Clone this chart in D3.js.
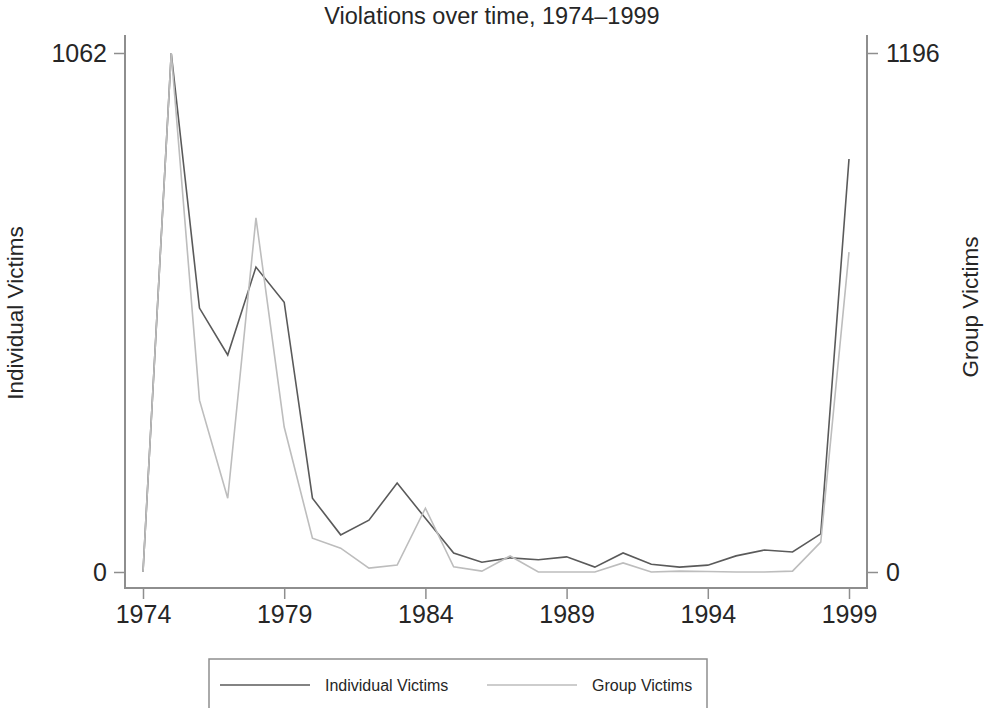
<!DOCTYPE html>
<html>
<head>
<meta charset="utf-8">
<script src="https://cdn.jsdelivr.net/npm/d3@7"></script>
<style>
body { margin: 0; background: #fff; }
text { font-family: "Liberation Sans", Arial, sans-serif; fill: #262626; }
</style>
</head>
<body>
<div id="chart"></div>
<script>
var years = [1974, 1975, 1976, 1977, 1978, 1979, 1980, 1981, 1982, 1983, 1984, 1985, 1986,
	1987, 1988, 1989, 1990, 1991, 1992, 1993, 1994, 1995, 1996, 1997, 1998, 1999],
	individual = [0, 1062, 540, 444, 624, 552, 151, 76, 106, 182, 110, 39, 20,
		29, 25, 31, 10, 39, 16, 10, 14, 33, 45, 41, 78, 845],
	group = [0, 1196, 396, 170, 816, 334, 78, 55, 9, 16, 147, 12, 2,
		37, 0, 0, 0, 21, 0, 2, 1, 0, 0, 2, 69, 737],
	xTicks = [1974, 1979, 1984, 1989, 1994, 1999],
	leftTicks = [0, 1062],
	rightTicks = [0, 1196];

var width = 984,
	height = 708,
	plotLeft = 125, plotRight = 867, plotTop = 35, plotBottom = 588;

var svg = d3.select('#chart')
	.append('svg')
	.attr('width', width)
	.attr('height', height);

var x = d3.scaleLinear().domain([1974, 1999]).range([143, 849]);
var yL = d3.scaleLinear().domain([0, 1062]).range([572, 53]);
var yR = d3.scaleLinear().domain([0, 1196]).range([572, 53]);

svg.append('text')
	.attr('x', 492)
	.attr('y', 24)
	.attr('text-anchor', 'middle')
	.style('font-size', '23.5px')
	.text('Violations over time, 1974\u20131999');

// axes
var axisColor = '#8e8e8e';
function styleAxis(g) {
	g.select('.domain').remove();
	g.selectAll('.tick line').attr('stroke', axisColor).attr('stroke-width', 1.5);
	g.selectAll('.tick text').style('font-size', '25px').attr('fill', '#262626');
}

svg.append('g')
	.attr('transform', 'translate(0,' + plotBottom + ')')
	.call(d3.axisBottom(x).tickValues(xTicks).tickFormat(d3.format('d')).tickSize(11).tickPadding(6))
	.call(styleAxis);

svg.append('g')
	.attr('transform', 'translate(' + plotLeft + ',0)')
	.call(d3.axisLeft(yL).tickValues(leftTicks).tickFormat(d3.format('d')).tickSize(11).tickPadding(7))
	.call(styleAxis);

svg.append('g')
	.attr('transform', 'translate(' + plotRight + ',0)')
	.call(d3.axisRight(yR).tickValues(rightTicks).tickFormat(d3.format('d')).tickSize(11).tickPadding(8))
	.call(styleAxis);

svg.append('path')
	.attr('d', 'M' + plotLeft + ',' + plotTop + 'V' + plotBottom + 'H' + plotRight + 'V' + plotTop)
	.attr('fill', 'none')
	.attr('stroke', axisColor)
	.attr('stroke-width', 2);

svg.append('text')
	.attr('transform', 'translate(23,313) rotate(-90)')
	.attr('text-anchor', 'middle')
	.style('font-size', '22.5px')
	.text('Individual Victims');

svg.append('text')
	.attr('transform', 'translate(978,307) rotate(-90)')
	.attr('text-anchor', 'middle')
	.style('font-size', '22.5px')
	.text('Group Victims');

// lines
var indLine = d3.line()
	.x(function(d, i){ return x(years[i]); })
	.y(function(d){ return yL(d); });
var grpLine = d3.line()
	.x(function(d, i){ return x(years[i]); })
	.y(function(d){ return yR(d); });

svg.append('path')
	.datum(individual)
	.attr('d', indLine)
	.attr('fill', 'none')
	.attr('stroke', '#5a5a5a')
	.attr('stroke-width', 1.6);

svg.append('path')
	.datum(group)
	.attr('d', grpLine)
	.attr('fill', 'none')
	.attr('stroke', '#bdbdbd')
	.attr('stroke-width', 1.6);

// legend
var legend = svg.append('g');
legend.append('rect')
	.attr('x', 209).attr('y', 659)
	.attr('width', 498).attr('height', 60)
	.attr('fill', 'none')
	.attr('stroke', '#8e8e8e')
	.attr('stroke-width', 1.5);

var items = [
	{ label: 'Individual Victims', color: '#5a5a5a', x: 220 },
	{ label: 'Group Victims', color: '#bdbdbd', x: 487 }
];
items.forEach(function(it){
	legend.append('line')
		.attr('x1', it.x).attr('x2', it.x + 90)
		.attr('y1', 685).attr('y2', 685)
		.attr('stroke', it.color)
		.attr('stroke-width', 1.6);
	legend.append('text')
		.attr('x', it.x + 105)
		.attr('y', 691)
		.style('font-size', '16px')
		.text(it.label);
});
</script>
</body>
</html>
